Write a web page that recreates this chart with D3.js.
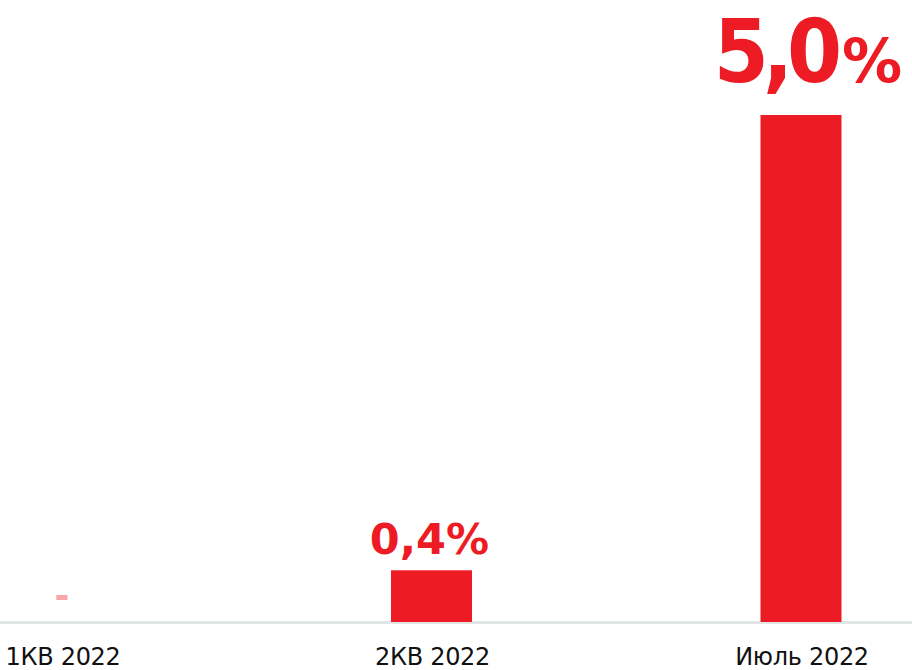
<!DOCTYPE html>
<html><head><meta charset="utf-8">
<script src="https://cdn.jsdelivr.net/npm/d3@7"></script>
<style>html,body{margin:0;padding:0;background:#fff;}svg{display:block;}</style>
</head><body>
<script>
const categories = ["1КВ 2022", "2КВ 2022", "Июль 2022"];
const values = [0, 0.51, 5.0];
const valueLabels = ["-", "0,4", "5,0"];
const labelSizes = [36, 43, 88];
const pctSizes = [0, 43, 60];

const W = 912, H = 670;
const svg = d3.select("body").append("svg").attr("width", W).attr("height", H);
const baseY = 622;
const x = d3.scalePoint().domain(categories).range([62, 801]);
const y = d3.scaleLinear().domain([0, 5]).range([baseY, 115]);
const barW = 81;
const red = "#ed1c24";

// axis line
svg.append("rect").attr("x", 0).attr("y", baseY - 1).attr("width", W).attr("height", 3).attr("fill", "#e2e5e5");

// bars
svg.selectAll("rect.bar").data(categories).enter().append("rect")
  .attr("class", "bar")
  .attr("x", d => x(d) - barW / 2)
  .attr("y", (d, i) => y(values[i]))
  .attr("width", barW)
  .attr("height", (d, i) => baseY - y(values[i]))
  .attr("fill", red);

// category labels
svg.selectAll("text.cat").data(categories).enter().append("text")
  .attr("class", "cat")
  .attr("x", d => x(d) + 1)
  .attr("y", 665)
  .attr("text-anchor", "middle")
  .attr("font-family", "DejaVu Sans")
  .attr("font-size", 24)
  .attr("letter-spacing", -0.3)
  .attr("fill", "#111")
  .text(d => d);

// value labels
categories.forEach((c, i) => {
  const t = svg.append("text")
    .attr("font-family", "DejaVu Sans")
    .attr("font-weight", "bold")
    .attr("text-anchor", "middle");
  if (i === 0) {
    t.attr("x", x(c)).attr("y", 608).attr("font-size", labelSizes[i]).attr("fill", "#f9a6aa")
     .text(valueLabels[i]);
  } else if (i === 1) {
    t.attr("x", x(c) - 2).attr("y", y(values[i]) - 16).attr("font-size", labelSizes[i]).attr("fill", red)
     .text(valueLabels[i] + "%");
  } else {
    t.attr("x", x(c) + 7).attr("y", y(values[i]) - 33).attr("fill", red);
    t.append("tspan")
      .attr("font-family", "'DejaVu Sans Condensed', 'DejaVu Sans'")
      .attr("font-stretch", "condensed")
      .attr("font-size", labelSizes[i]).attr("letter-spacing", -6).text(valueLabels[i]);
    t.append("tspan").attr("font-size", pctSizes[i]).attr("dx", 6).text("%");
  }
});
</script>
</body></html>
